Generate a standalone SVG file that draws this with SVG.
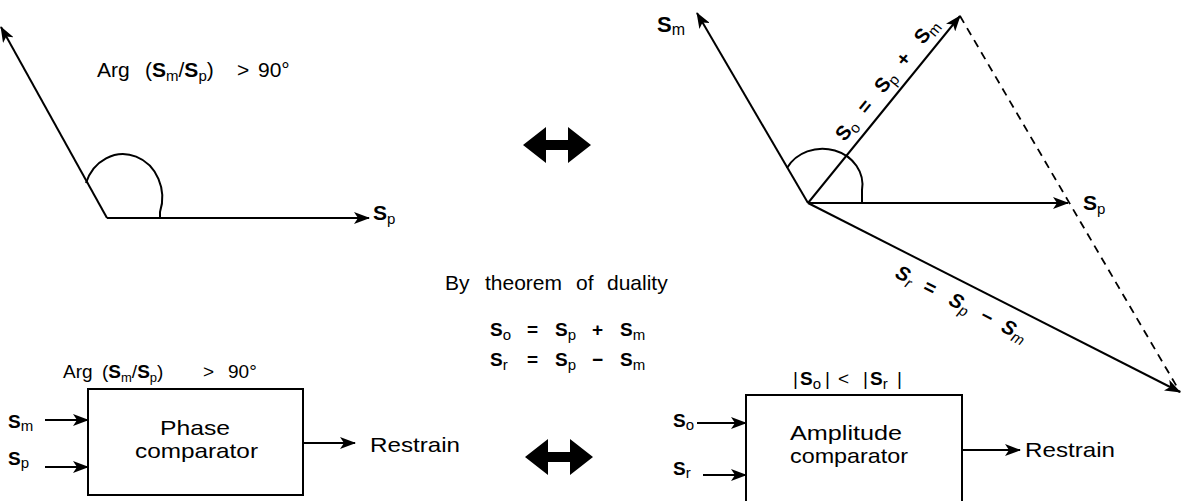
<svg xmlns="http://www.w3.org/2000/svg" width="1182" height="501" viewBox="0 0 1182 501">
<style>
.t{font-family:"Liberation Sans",Arial,sans-serif;font-size:21px;fill:#000}
.b{font-weight:bold}
.sub{font-size:15px;font-weight:normal}
.ln{stroke:#000;stroke-width:2;fill:none}
.dash{stroke:#000;stroke-width:1.8;fill:none;stroke-dasharray:8 6}
.big{fill:#000}
</style>
<defs>
<marker id="ah" markerUnits="userSpaceOnUse" markerWidth="16" markerHeight="12" viewBox="0 0 16 12" refX="15" refY="6" orient="auto">
<path d="M0,0 L16,6 L0,12 L4,6 Z" fill="#000"/>
</marker>
</defs>

<g id="connectors">
<line class="ln" x1="107" y1="218" x2="1" y2="27" marker-end="url(#ah)"/>
<line class="ln" x1="107" y1="218" x2="369" y2="218" marker-end="url(#ah)"/>
<path class="ln" d="M86,183 A38,42 0 0 1 160,212 L160,218"/>
<line class="ln" x1="808" y1="203" x2="697" y2="13" marker-end="url(#ah)"/>
<line class="ln" x1="808" y1="203" x2="960" y2="16" marker-end="url(#ah)"/>
<line class="ln" x1="808" y1="203" x2="1068" y2="203" marker-end="url(#ah)"/>
<line class="ln" x1="808" y1="203" x2="1180" y2="392" marker-end="url(#ah)"/>
<line class="dash" x1="960" y1="16" x2="1180" y2="392"/>
<path class="ln" d="M787,168 A40,36 0 0 1 862,190 L862,203"/>
<line class="ln" x1="45" y1="420" x2="88" y2="420" marker-end="url(#ah)"/>
<line class="ln" x1="45" y1="467" x2="88" y2="467" marker-end="url(#ah)"/>
<line class="ln" x1="303" y1="443" x2="355" y2="443" marker-end="url(#ah)"/>
<line class="ln" x1="697" y1="423" x2="746" y2="423" marker-end="url(#ah)"/>
<line class="ln" x1="703" y1="475" x2="746" y2="475" marker-end="url(#ah)"/>
<line class="ln" x1="962" y1="450" x2="1020" y2="450" marker-end="url(#ah)"/>
<polygon class="big" points="523,145 546,127 546,140 568,140 568,127 591,145 568,163 568,150 546,150 546,163"/>
<polygon class="big" points="525,457 548,439 548,452 570,452 570,439 593,457 570,475 570,462 548,462 548,475"/>
</g>

<g id="phasor-left-labels">
<text class="t" x="97" y="77">Arg</text>
<text class="t" x="145" y="77">(<tspan class="b">S</tspan><tspan class="sub" dy="4">m</tspan><tspan dy="-4">/</tspan><tspan class="b">S</tspan><tspan class="sub" dy="4">p</tspan><tspan dy="-4">)</tspan></text>
<text class="t" x="237" y="77">&gt;</text>
<text class="t" x="258" y="77">90°</text>
<text class="t b" x="373" y="220">S<tspan class="sub" dy="4">p</tspan></text>
</g>

<g id="phasor-right-labels">
<text class="t b" x="657" y="32" style="font-size:22px">S<tspan class="sub" dy="3" style="font-size:16px">m</tspan></text>
<text class="t b" x="1083" y="210">S<tspan class="sub" dy="4">p</tspan></text>
<g transform="translate(808,203) rotate(-50.9)">
<text class="t b" y="-10" style="font-size:20px"><tspan x="70">S</tspan><tspan class="sub" dy="4">o</tspan><tspan x="105" dy="-4">=</tspan><tspan x="132">S</tspan><tspan class="sub" dy="4">p</tspan><tspan x="166" dy="-4">+</tspan><tspan x="195">S</tspan><tspan class="sub" dy="4">m</tspan></text>
</g>
<g transform="translate(808,203) rotate(26.9)">
<text class="t b" y="27" style="font-size:20px;font-style:italic"><tspan x="110">S</tspan><tspan class="sub" dy="4" style="font-style:italic">r</tspan><tspan x="141" dy="-4">=</tspan><tspan x="170">S</tspan><tspan class="sub" dy="4" style="font-style:italic">p</tspan><tspan x="205" dy="-4">−</tspan><tspan x="229">S</tspan><tspan class="sub" dy="4" style="font-style:italic">m</tspan></text>
</g>
</g>

<g id="duality-text">
<text class="t" y="290"><tspan x="445">By</tspan><tspan x="485">theorem</tspan><tspan x="576">of</tspan><tspan x="607">duality</tspan></text>
<text class="t b" y="336" style="font-size:19px"><tspan x="490">S</tspan><tspan class="sub" dy="4">o</tspan><tspan x="527" dy="-4">=</tspan><tspan x="555">S</tspan><tspan class="sub" dy="4">p</tspan><tspan x="592" dy="-4">+</tspan><tspan x="620">S</tspan><tspan class="sub" dy="4">m</tspan></text>
<text class="t b" y="366" style="font-size:19px"><tspan x="490">S</tspan><tspan class="sub" dy="4">r</tspan><tspan x="527" dy="-4">=</tspan><tspan x="555">S</tspan><tspan class="sub" dy="4">p</tspan><tspan x="592" dy="-4">−</tspan><tspan x="620">S</tspan><tspan class="sub" dy="4">m</tspan></text>
</g>

<g id="phase-comparator">
<rect class="ln" x="88" y="389" width="215" height="106"/>
<text class="t" x="160" y="435" textLength="70" lengthAdjust="spacingAndGlyphs">Phase</text>
<text class="t" x="135" y="458" textLength="123" lengthAdjust="spacingAndGlyphs">comparator</text>
<text class="t" x="63" y="378" style="font-size:19px">Arg</text>
<text class="t" x="102" y="378" style="font-size:19px">(<tspan class="b">S</tspan><tspan class="sub" dy="4" style="font-size:13px">m</tspan><tspan dy="-4">/</tspan><tspan class="b">S</tspan><tspan class="sub" dy="4" style="font-size:13px">p</tspan><tspan dy="-4">)</tspan></text>
<text class="t" x="203" y="378" style="font-size:19px">&gt;</text>
<text class="t" x="228" y="378" style="font-size:19px">90°</text>
<text class="t b" x="8" y="428" style="font-size:19px">S<tspan class="sub" dy="3">m</tspan></text>
<text class="t b" x="8" y="465" style="font-size:19px">S<tspan class="sub" dy="3">p</tspan></text>
<text class="t" x="370" y="452" textLength="90" lengthAdjust="spacingAndGlyphs">Restrain</text>
</g>

<g id="amplitude-comparator">
<rect class="ln" x="746" y="395" width="216" height="130"/>
<text class="t" x="790" y="440" textLength="112" lengthAdjust="spacingAndGlyphs">Amplitude</text>
<text class="t" x="790" y="463" textLength="118" lengthAdjust="spacingAndGlyphs">comparator</text>
<text class="t" y="385" style="font-size:19px"><tspan x="793">|</tspan><tspan class="b" x="800">S</tspan><tspan class="sub" dy="4">o</tspan><tspan x="825" dy="-4">|</tspan><tspan x="838">&lt;</tspan><tspan x="863">|</tspan><tspan class="b" x="870">S</tspan><tspan class="sub" dy="4">r</tspan><tspan x="897" dy="-4">|</tspan></text>
<text class="t b" x="673" y="427" style="font-size:19px">S<tspan class="sub" dy="3">o</tspan></text>
<text class="t b" x="673" y="475" style="font-size:19px">S<tspan class="sub" dy="3">r</tspan></text>
<text class="t" x="1025" y="457" textLength="90" lengthAdjust="spacingAndGlyphs">Restrain</text>
</g>
</svg>
